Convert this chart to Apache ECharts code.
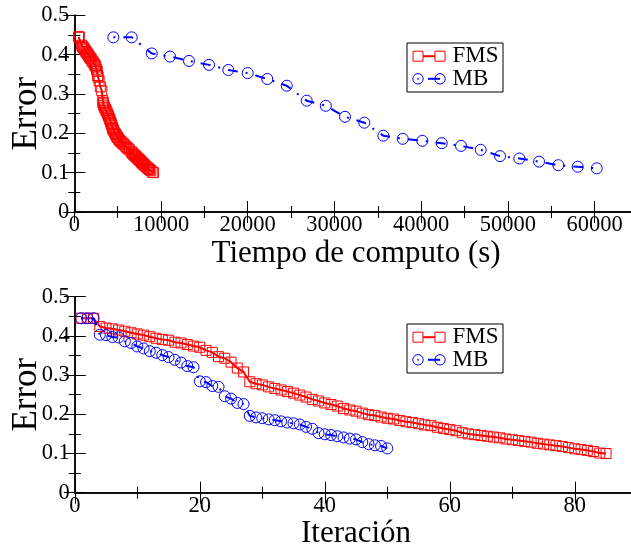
<!DOCTYPE html>
<html>
<head>
<meta charset="utf-8">
<script src="https://cdn.jsdelivr.net/npm/echarts@6/dist/echarts.min.js"></script>
<style>
  html, body { margin: 0; padding: 0; background: #fff; }
  #chart { width: 631px; height: 550px; }
</style>
</head>
<body>
<div id="chart"></div>
<script>
// FMS: error after each iteration (iterations 1..85)
const fmsError = [
  0.445, 0.445, 0.445, 0.424, 0.420, 0.418, 0.415, 0.412, 0.408, 0.405,
  0.402, 0.398, 0.394, 0.391, 0.389, 0.384, 0.382, 0.378, 0.374, 0.371,
  0.363, 0.358, 0.347, 0.343, 0.333, 0.318, 0.308, 0.283, 0.278, 0.275,
  0.270, 0.266, 0.262, 0.258, 0.254, 0.249, 0.244, 0.238, 0.234, 0.229,
  0.225, 0.221, 0.215, 0.211, 0.208, 0.203, 0.199, 0.197, 0.193, 0.190,
  0.188, 0.184, 0.181, 0.179, 0.176, 0.173, 0.171, 0.167, 0.164, 0.161,
  0.158, 0.153, 0.150, 0.148, 0.146, 0.144, 0.142, 0.140, 0.137, 0.135,
  0.133, 0.131, 0.129, 0.126, 0.124, 0.122, 0.120, 0.118, 0.115, 0.112,
  0.110, 0.108, 0.105, 0.101, 0.100
];
// FMS: accumulated computing time (s) at each iteration
const fmsTime = [
  500, 530, 560, 850, 950, 1040, 1140, 1230, 1330, 1420,
  1520, 1640, 1760, 1860, 1940, 2060, 2150, 2260, 2370, 2440,
  2560, 2650, 2700, 2740, 2860, 3000, 3170, 3290, 3310, 3340,
  3410, 3500, 3580, 3670, 3760, 3850, 3940, 4040, 4120, 4190,
  4250, 4320, 4390, 4440, 4500, 4620, 4730, 4790, 4880, 4960,
  5040, 5150, 5270, 5370, 5510, 5650, 5760, 5930, 6070, 6210,
  6350, 6580, 6680, 6760, 6860, 6950, 7050, 7150, 7270, 7380,
  7480, 7580, 7670, 7780, 7870, 7970, 8060, 8150, 8300, 8460,
  8560, 8680, 8830, 9060, 9120
];
// MB: error after each iteration (iterations 1..50)
const mbError = [
  0.445, 0.445, 0.445, 0.403, 0.402, 0.397, 0.396, 0.386, 0.382, 0.373,
  0.368, 0.361, 0.357, 0.351, 0.346, 0.339, 0.332, 0.323, 0.320, 0.284,
  0.282, 0.272, 0.270, 0.246, 0.240, 0.229, 0.226, 0.196, 0.192, 0.190,
  0.187, 0.185, 0.182, 0.179, 0.177, 0.174, 0.168, 0.163, 0.152, 0.149,
  0.147, 0.144, 0.141, 0.138, 0.136, 0.129, 0.124, 0.121, 0.119, 0.113
];
// MB: checkpoints against computing time (s)
const mbTime = [
  4500, 6620, 8930, 11040, 13230, 15540, 17760, 20000, 22260, 24500,
  26800, 29000, 31220, 33450, 35640, 37880, 40140, 42380, 44600, 46870,
  49100, 51330, 53600, 55820, 58060, 60250
];
const mbTimeError = [
  0.444, 0.444, 0.403, 0.395, 0.384, 0.374, 0.361, 0.353, 0.338, 0.321,
  0.283, 0.270, 0.242, 0.227, 0.194, 0.186, 0.181, 0.175, 0.168, 0.158,
  0.142, 0.136, 0.128, 0.119, 0.115, 0.111
];

// Tick labels
const timeTicks = [0, 10000, 20000, 30000, 40000, 50000, 60000];
const iterTicks = [0, 20, 40, 60, 80];
const errorTicks = ['0', '0.1', '0.2', '0.3', '0.4', '0.5'];

const seriesNames = ['FMS', 'MB'];
const RED = '#ff0000';
const BLUE = '#0000ff';
const FONT = 'Liberation Serif';

const chart = echarts.init(document.getElementById('chart'), null, { renderer: 'canvas' });

const lineAxis = { show: true, lineStyle: { color: '#000', width: 1.5 } };

function xAxisOf(gridIndex, position, max, interval, ticks, name, nameGap) {
  const labelled = position === 'bottom';
  return {
    type: 'value', gridIndex, position, min: 0, max, interval,
    axisLine: lineAxis,
    axisTick: { show: true, inside: true, length: 11, lineStyle: { color: '#000', width: 1 } },
    minorTick: { show: true, splitNumber: 2, length: 6, lineStyle: { color: '#000', width: 1 } },
    splitLine: { show: false },
    axisLabel: {
      show: labelled, margin: 2, color: '#000', fontFamily: FONT, fontSize: 22.5,
      formatter: v => (ticks.indexOf(v) >= 0 ? String(v) : '')
    },
    name: labelled ? name : '',
    nameLocation: 'middle', nameGap,
    nameTextStyle: { color: '#000', fontFamily: FONT, fontSize: 31 }
  };
}

function yAxisOf(gridIndex, position) {
  const labelled = position === 'left';
  return {
    type: 'value', gridIndex, position, min: 0, max: 0.5, interval: 0.1,
    axisLine: lineAxis,
    axisTick: { show: true, inside: true, length: 11, lineStyle: { color: '#000', width: 1 } },
    minorTick: { show: true, splitNumber: 2, length: 6, lineStyle: { color: '#000', width: 1 } },
    splitLine: { show: false },
    axisLabel: {
      show: labelled, margin: 5, color: '#000', fontFamily: FONT, fontSize: 22.5,
      formatter: v => errorTicks[Math.round(v * 10)]
    },
    name: labelled ? 'Error' : '',
    nameLocation: 'middle', nameGap: 30, nameMoveOverlap: false,
    nameTextStyle: { color: '#000', fontFamily: FONT, fontSize: 35 }
  };
}

// Boxed key in the Grace style: symbol - line - symbol, then the series name
function keyBox(left, top) {
  const row1 = 13.7, row2 = 36.3;
  const thin = { fill: 'none', lineWidth: 1 };
  return {
    type: 'group', left, top, silent: true,
    children: [
      { type: 'rect', shape: { x: 0.5, y: 0.5, width: 96, height: 49 },
        style: { fill: '#fff', stroke: '#000', lineWidth: 1 } },
      // FMS key
      { type: 'rect', shape: { x: 6.5, y: row1 - 5, width: 10, height: 10 },
        style: Object.assign({ stroke: RED }, thin) },
      { type: 'rect', shape: { x: 28.5, y: row1 - 5, width: 10, height: 10 },
        style: Object.assign({ stroke: RED }, thin) },
      { type: 'line', shape: { x1: 16.5, y1: row1, x2: 28.5, y2: row1 },
        style: { stroke: RED, lineWidth: 2 } },
      { type: 'text', x: 46, y: row1, style: { text: seriesNames[0], fill: '#000',
        font: '23px "Liberation Serif"', verticalAlign: 'middle', align: 'left' } },
      // MB key
      { type: 'circle', shape: { cx: 11.5, cy: row2, r: 5.2 },
        style: Object.assign({ stroke: BLUE }, thin) },
      { type: 'circle', shape: { cx: 33.5, cy: row2, r: 5.2 },
        style: Object.assign({ stroke: BLUE }, thin) },
      { type: 'circle', shape: { cx: 11.5, cy: row2, r: 0.9 },
        style: { fill: BLUE } },
      { type: 'line', shape: { x1: 21.5, y1: row2, x2: 33.5, y2: row2 },
        style: { stroke: BLUE, lineWidth: 2 } },
      { type: 'text', x: 46, y: row2, style: { text: seriesNames[1], fill: '#000',
        font: '23px "Liberation Serif"', verticalAlign: 'middle', align: 'left' } }
    ]
  };
}

function fmsSeries(xIdx, yIdx, data) {
  return {
    name: seriesNames[0], type: 'line', xAxisIndex: xIdx, yAxisIndex: yIdx, data,
    symbol: 'rect', symbolSize: 10, showAllSymbol: true,
    itemStyle: { color: 'rgba(0,0,0,0)', borderColor: RED, borderWidth: 1 },
    lineStyle: { color: RED, width: 2 },
    emphasis: { disabled: true }, z: 2
  };
}

function mbSeries(xIdx, yIdx, data) {
  return {
    name: seriesNames[1], type: 'line', xAxisIndex: xIdx, yAxisIndex: yIdx, data,
    symbol: 'circle', symbolSize: 11, showAllSymbol: true,
    itemStyle: { color: 'rgba(0,0,0,0)', borderColor: BLUE, borderWidth: 1 },
    lineStyle: { color: BLUE, width: 2, type: [2, 8, 10, 8], cap: 'butt' },
    emphasis: { disabled: true }, z: 3
  };
}

const option = {
  animation: false,
  backgroundColor: '#fff',
  grid: [
    { left: 74.3, top: 15.3, width: 563.6, height: 196.7, containLabel: false, outerBoundsMode: 'none' },
    { left: 74.8, top: 296.7, width: 562.5, height: 196, containLabel: false, outerBoundsMode: 'none' }
  ],
  xAxis: [
    xAxisOf(0, 'bottom', 65000, 10000, timeTicks, 'Tiempo de computo (s)', 24),
    xAxisOf(0, 'top', 65000, 10000, timeTicks, '', 0),
    xAxisOf(1, 'bottom', 90, 20, iterTicks, 'Iteración', 21),
    xAxisOf(1, 'top', 90, 20, iterTicks, '', 0)
  ],
  yAxis: [
    yAxisOf(0, 'left'), yAxisOf(0, 'right'),
    yAxisOf(1, 'left'), yAxisOf(1, 'right')
  ],
  graphic: [keyBox(406.5, 42.5), keyBox(406.5, 323.5)],
  series: [
    fmsSeries(0, 0, fmsTime.map((t, i) => [t, fmsError[i]])),
    mbSeries(0, 0, mbTime.map((t, i) => [t, mbTimeError[i]])),
    fmsSeries(2, 2, fmsError.map((e, i) => [i + 1, e])),
    mbSeries(2, 2, mbError.map((e, i) => [i + 1, e]))
  ]
};

chart.setOption(option);
</script>
</body>
</html>
